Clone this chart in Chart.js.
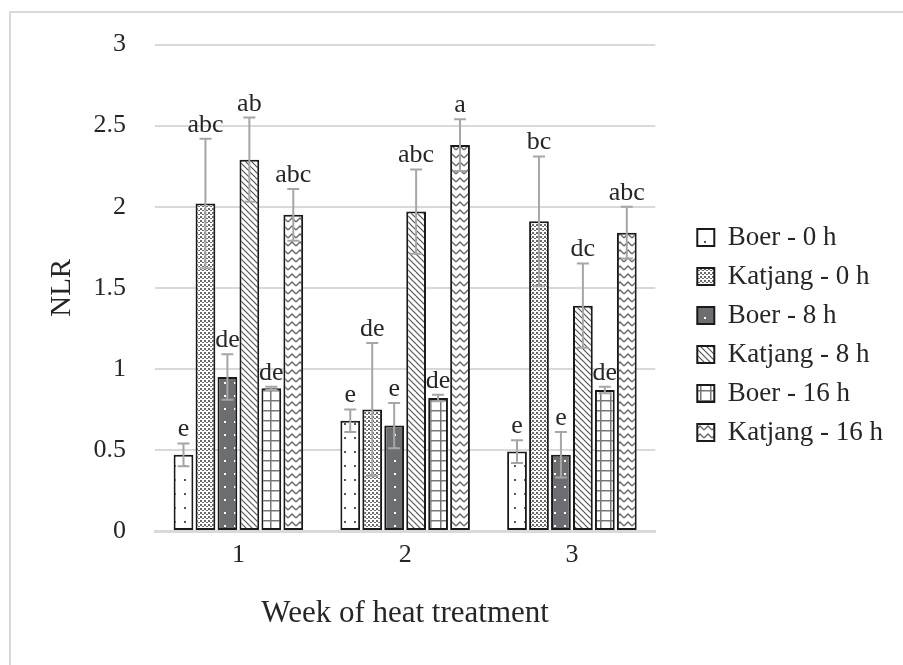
<!DOCTYPE html>
<html>
<head>
<meta charset="utf-8">
<script src="https://cdn.jsdelivr.net/npm/chart.js@4"></script>
<style>
  html, body { margin: 0; padding: 0; background: #fff; overflow: hidden; }
  #wrap { position: relative; width: 903px; height: 665px; }
  #frame { position: absolute; left: 9px; top: 11px; width: 1000px; height: 1000px; border: 2px solid #d9d9d9; }
  #chart { position: absolute; left: 0; top: 0; }
</style>
</head>
<body>
<div id="wrap">
  <div id="frame"></div>
  <canvas id="chart" width="903" height="665"></canvas>
</div>
<script>
// Data
const weeks = ['1', '2', '3'];
const seriesNames = ['Boer - 0 h', 'Katjang - 0 h', 'Boer - 8 h', 'Katjang - 8 h', 'Boer - 16 h', 'Katjang - 16 h'];

const boer0 = [0.47, 0.68, 0.49];
const katjang0 = [2.02, 0.75, 1.91];
const boer8 = [0.95, 0.65, 0.47];
const katjang8 = [2.29, 1.97, 1.39];
const boer16 = [0.88, 0.82, 0.87];
const katjang16 = [1.95, 2.38, 1.84];

const boer0Err = [0.07, 0.07, 0.07];
const katjang0Err = [0.40, 0.41, 0.40];
const boer8Err = [0.14, 0.14, 0.14];
const katjang8Err = [0.26, 0.26, 0.26];
const boer16Err = [0.01, 0.02, 0.02];
const katjang16Err = [0.16, 0.16, 0.16];

const boer0Letters = ['e', 'e', 'e'];
const katjang0Letters = ['abc', 'de', 'bc'];
const boer8Letters = ['de', 'e', 'e'];
const katjang8Letters = ['ab', 'abc', 'dc'];
const boer16Letters = ['de', 'de', 'de'];
const katjang16Letters = ['abc', 'a', 'abc'];

const FONT = "'Liberation Serif', 'Times New Roman', serif";
const TEXT = '#262626';

// Fill patterns
function makePattern(w, h, bg, draw) {
    const c = document.createElement('canvas');
    c.width = w;
    c.height = h;
    const g = c.getContext('2d');
    g.fillStyle = bg;
    g.fillRect(0, 0, w, h);
    draw(g);
    return document.getElementById('chart').getContext('2d').createPattern(c, 'repeat');
}

const patBoer0 = makePattern(10, 14, '#ffffff', g => {
    g.fillStyle = '#555';
    g.fillRect(4, 3, 2, 2);
});
const patKatjang0 = makePattern(4, 4, '#ffffff', g => {
    g.fillStyle = '#6a6a6a';
    g.fillRect(0, 0, 2, 2);
    g.fillRect(2, 2, 2, 1);
});
const patBoer8 = makePattern(10, 13, '#6d6e71', g => {
    g.fillStyle = '#ffffff';
    g.fillRect(4, 5, 2, 2);
});
const patKatjang8 = makePattern(6, 6, '#ffffff', g => {
    g.strokeStyle = '#555';
    g.lineWidth = 1.2;
    g.beginPath();
    g.moveTo(-1, -1); g.lineTo(7, 7);
    g.moveTo(-4, 2); g.lineTo(4, 10);
    g.moveTo(2, -4); g.lineTo(10, 4);
    g.stroke();
});
const patBoer16 = makePattern(10, 10, '#ffffff', g => {
    g.fillStyle = '#777';
    g.fillRect(0, 0, 10, 1.5);
    g.fillRect(0, 0, 1.5, 10);
});
const patKatjang16 = makePattern(8, 8, '#ffffff', g => {
    g.strokeStyle = '#666';
    g.lineWidth = 1.3;
    g.beginPath();
    g.moveTo(0, 6); g.lineTo(4, 2); g.lineTo(8, 6);
    g.stroke();
});

const seriesValues = [boer0, katjang0, boer8, katjang8, boer16, katjang16];
const seriesErrors = [boer0Err, katjang0Err, boer8Err, katjang8Err, boer16Err, katjang16Err];
const seriesLetters = [boer0Letters, katjang0Letters, boer8Letters, katjang8Letters, boer16Letters, katjang16Letters];
const seriesFills = [patBoer0, patKatjang0, patBoer8, patKatjang8, patBoer16, patKatjang16];

const datasets = seriesNames.map((name, i) => ({
    label: name,
    data: seriesValues[i],
    errors: seriesErrors[i],
    letters: seriesLetters[i],
    backgroundColor: seriesFills[i],
    borderColor: '#1a1a1a',
    borderWidth: 2,
    borderSkipped: false,
    barPercentage: 0.9,
    categoryPercentage: 0.79
}));

// Error bars + significance letters
const errorBars = {
    id: 'errorBars',
    afterDatasetsDraw(chart) {
        const ctx = chart.ctx;
        const y = chart.scales.y;
        ctx.save();
        chart.data.datasets.forEach((ds, i) => {
            const meta = chart.getDatasetMeta(i);
            meta.data.forEach((bar, j) => {
                const v = ds.data[j];
                const e = ds.errors[j];
                const top = y.getPixelForValue(v + e);
                const bot = y.getPixelForValue(v - e);
                ctx.strokeStyle = '#a6a6a6';
                ctx.lineWidth = 2;
                ctx.beginPath();
                ctx.moveTo(bar.x, top); ctx.lineTo(bar.x, bot);
                ctx.moveTo(bar.x - 6, top); ctx.lineTo(bar.x + 6, top);
                ctx.moveTo(bar.x - 6, bot); ctx.lineTo(bar.x + 6, bot);
                ctx.stroke();
                ctx.fillStyle = TEXT;
                ctx.font = '26px ' + FONT;
                ctx.textAlign = 'center';
                ctx.textBaseline = 'alphabetic';
                ctx.fillText(ds.letters[j], bar.x, top - 7);
            });
        });
        ctx.restore();
    }
};

// Nudge the legend to where it sits in the original figure
const legendShift = {
    id: 'legendShift',
    afterLayout(chart) {
        const l = chart.legend;
        l.left += 30; l.right += 30;
        l.top += 3; l.bottom += 3;
    }
};

new Chart(document.getElementById('chart'), {
    type: 'bar',
    data: { labels: weeks, datasets: datasets },
    options: {
        responsive: false,
        animation: false,
        layout: { padding: { top: 32, right: 40, bottom: 33, left: 28 } },
        plugins: {
            legend: {
                position: 'right',
                labels: {
                    boxWidth: 17,
                    boxHeight: 17,
                    padding: 12,
                    color: TEXT,
                    font: { family: FONT, size: 27 }
                }
            },
            tooltip: { enabled: false }
        },
        scales: {
            x: {
                afterFit: axis => { axis.height = 101; },
                grid: { display: false },
                border: { color: '#d9d9d9', width: 3 },
                ticks: { color: TEXT, padding: 1, font: { family: FONT, size: 26 } },
                title: {
                    display: true,
                    text: 'Week of heat treatment',
                    color: TEXT,
                    padding: { top: 0, bottom: 0 },
                    font: { family: FONT, size: 31 }
                }
            },
            y: {
                min: 0,
                max: 3,
                afterFit: axis => { axis.width = 127; },
                grid: { color: '#d9d9d9', lineWidth: 2, drawTicks: false },
                border: { display: false },
                ticks: {
                    stepSize: 0.5,
                    color: TEXT,
                    padding: 29,
                    font: { family: FONT, size: 26 },
                    callback: v => String(v)
                },
                title: {
                    display: true,
                    text: 'NLR',
                    color: TEXT,
                    padding: { top: 17, bottom: 0 },
                    font: { family: FONT, size: 29 }
                }
            }
        }
    },
    plugins: [errorBars, legendShift]
});
</script>
</body>
</html>
